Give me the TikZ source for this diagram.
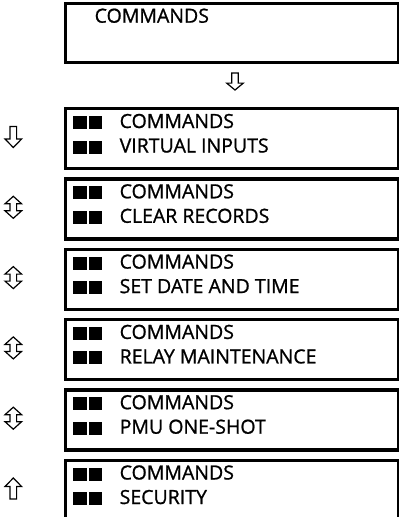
\documentclass[tikz,border=0pt]{standalone}
\usepackage{fontspec}
\setmainfont{Open Sans}
\usetikzlibrary{positioning}
\tikzset{
  menubox/.style={draw,line width=3.3pt,minimum width=333pt,minimum height=60pt,inner sep=0pt,anchor=north west},
  menutxt/.style={anchor=base west,inner sep=0pt,font=\fontsize{19.5}{21}\selectfont\addfontfeatures{FakeBold=1}},
  hollow/.style={draw,line width=1.2pt,fill=white,line join=miter},
  dnarrow/.pic={\draw[hollow] (-3.3,-10.5) -- (3.3,-10.5) -- (3.3,2) -- (8.3,2) -- (0,10.5) -- (-8.3,2) -- (-3.3,2) -- cycle;},
  uparrow/.pic={\draw[hollow] (-3.3,10.5) -- (3.3,10.5) -- (3.3,-2) -- (8.3,-2) -- (0,-10.5) -- (-8.3,-2) -- (-3.3,-2) -- cycle;},
  udarrow/.pic={\draw[hollow] (0,-11) -- (8.3,-3.5) -- (3.3,-3.5) -- (3.3,3.5) -- (8.3,3.5) -- (0,11) -- (-8.3,3.5) -- (-3.3,3.5) -- (-3.3,-3.5) -- (-8.3,-3.5) -- cycle;}
}
\newcommand{\blks}{\rule[-1pt]{13.5pt}{13pt}\hspace{2pt}\rule[-1pt]{13.5pt}{13pt}\hspace{17.5pt}}

\begin{document}
\begin{tikzpicture}[x=1pt,y=-1pt]
  \useasboundingbox (0,0) rectangle (399,517);
  \clip (0,0) rectangle (399,517);
  \node[menubox,minimum height=59.3pt] (cmd) at (63.5,1.7) {};
  \node[menutxt] (cmdtxt) at ([xshift=31pt,yshift=-21pt]cmd.north west) {COMMANDS};
  \pic[yscale=0.81] at (235,81.5) {dnarrow};
  \foreach \name/\sub/\arr [count=\i] in {vin/VIRTUAL INPUTS/dnarrow,clr/CLEAR RECORDS/udarrow,dat/SET DATE AND TIME/udarrow,rel/RELAY MAINTENANCE/udarrow,pmu/PMU ONE-SHOT/udarrow,sec/SECURITY/uparrow}{
    \node[menubox] (\name) at (63.5,{107+70.3*(\i-1)}) {};
    \node[menutxt] (\name top) at ([xshift=9.5pt,yshift=-21pt]\name.north west) {\blks COMMANDS};
    \node[menutxt] (\name sub) at ([xshift=9.5pt,yshift=-45.5pt]\name.north west) {\blks \sub};
    \pic at (13.3,{107+70.3*(\i-1)+30}) {\arr};
  }
\end{tikzpicture}
\end{document}
